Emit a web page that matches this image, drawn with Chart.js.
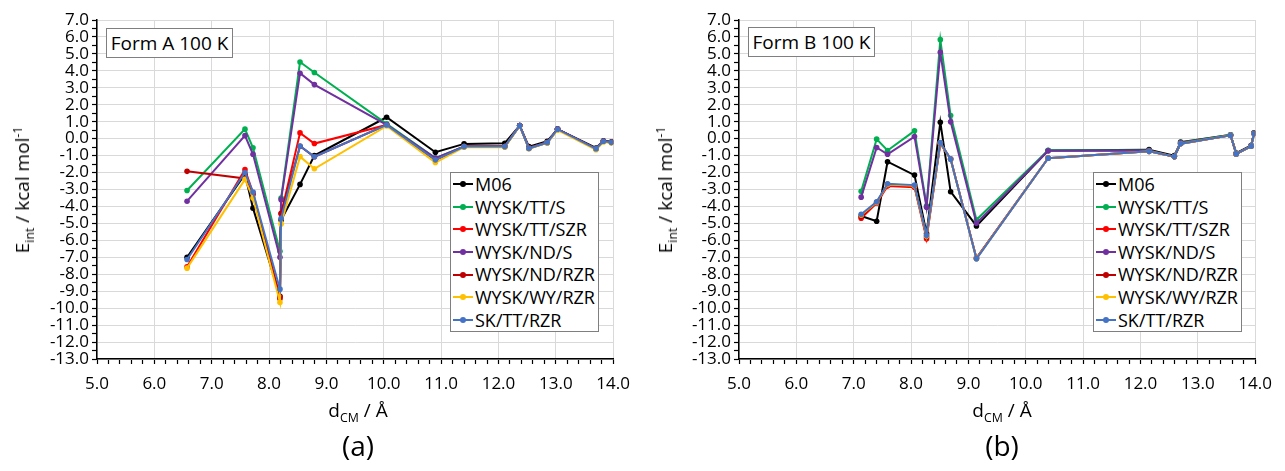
<!DOCTYPE html>
<html>
<head>
<meta charset="utf-8">
<script src="https://cdn.jsdelivr.net/npm/chart.js@4.4.1/dist/chart.umd.min.js"></script>
<style>
  html, body { margin: 0; padding: 0; background: #fff; }
  body { width: 1285px; height: 471px; position: relative; overflow: hidden; font-family: "Open Sans", sans-serif; color: #000; }
  canvas { position: absolute; top: 0; }
  #chA { left: 0; }
  #chB { left: 642px; }
  .form { position: absolute; box-sizing: border-box; width: 127px; height: 30px; border: 1px solid #7f7f7f; background: #fff;
          font-size: 19px; line-height: 28px; text-align: center; white-space: nowrap; }
  .legend { position: absolute; border: 1px solid #7f7f7f; background: #fff; font-size: 18px; padding: 0 3px 0 2px; }
  .legend div { height: 22.6px; line-height: 22.6px; display: flex; align-items: center; white-space: nowrap; }
  .legend i { position: relative; display: inline-block; width: 20px; height: 2px; margin-right: 2px; }
  .legend i::after { content: ""; position: absolute; left: 7px; top: -2px; width: 6px; height: 6px; border-radius: 50%; background: inherit; }
  .ytitle { position: absolute; transform: translate(-50%, -50%) rotate(-90deg); font-size: 19px; white-space: nowrap; }
  .xtitle { position: absolute; transform: translateX(-50%); font-size: 19px; white-space: nowrap; }
  .tag { position: absolute; transform: translateX(-50%); font-size: 28px; white-space: nowrap; }
  sub, sup { font-size: 65%; line-height: 0; }
</style>
</head>
<body>
<canvas id="chA" width="640" height="400"></canvas>
<canvas id="chB" width="640" height="400"></canvas>

<div class="form" style="left:106px;top:28px">Form A 100 K</div>
<div class="form" style="left:748px;top:27px">Form B 100 K</div>

<div class="legend" id="legA" style="left:450px;top:172px"></div>
<div class="legend" id="legB" style="left:1093px;top:172px"></div>

<div class="ytitle" style="left:22px;top:190px">E<sub>int</sub> / kcal mol<sup>-1</sup></div>
<div class="ytitle" style="left:665px;top:190px">E<sub>int</sub> / kcal mol<sup>-1</sup></div>
<div class="xtitle" style="left:358px;top:397px">d<sub>CM</sub> / Å</div>
<div class="xtitle" style="left:1002px;top:397px">d<sub>CM</sub> / Å</div>
<div class="tag" style="left:358px;top:426px">(a)</div>
<div class="tag" style="left:1002px;top:426px">(b)</div>

<script>
// series names and line colours
const names = ["M06", "WYSK/TT/S", "WYSK/TT/SZR", "WYSK/ND/S", "WYSK/ND/RZR", "WYSK/WY/RZR", "SK/TT/RZR"];
const colors = ["#000000", "#00b050", "#ff0000", "#7030a0", "#c00000", "#ffc000", "#4472c4"];

// Form A: centre-of-mass distances (Å) and interaction energies (kcal/mol)
const xA = [6.57, 7.58, 7.72, 8.19, 8.21, 8.54, 8.79, 10.05, 10.90, 11.40, 12.11, 12.37, 12.53, 12.85, 13.03, 13.70, 13.83, 13.97];
const m06A   = [-7.00, -2.10, -4.10, -9.30, -4.80, -2.70, -1.00, 1.26, -0.80, -0.31, -0.27, 0.77, -0.47, -0.15, 0.56, -0.55, -0.12, -0.18];
const ttsA   = [-3.06,  0.56, -0.54, -6.65, -3.50,  4.52,  3.90, 0.87, -1.15, -0.47, -0.47, 0.77, -0.55, -0.23, 0.56, -0.60, -0.15, -0.22];
const ttszA  = [-7.56, -1.83, -3.20, -9.34, -4.44,  0.34, -0.29, 0.81, -1.25, -0.47, -0.47, 0.77, -0.55, -0.23, 0.56, -0.60, -0.15, -0.22];
const ndsA   = [-3.69,  0.18, -0.92, -7.00, -3.60,  3.86,  3.19, 0.81, -1.15, -0.47, -0.47, 0.77, -0.55, -0.23, 0.56, -0.60, -0.15, -0.22];
const ndrzA  = [-1.93, -2.35, -3.30, -9.45, -4.40, -0.45, -1.07, 0.81, -1.25, -0.47, -0.47, 0.77, -0.58, -0.23, 0.56, -0.60, -0.15, -0.22];
const wyrzA  = [-7.64, -2.40, -3.50, -9.66, -5.03, -1.06, -1.78, 0.75, -1.41, -0.50, -0.50, 0.75, -0.60, -0.25, 0.50, -0.65, -0.20, -0.25];
const sktrzA = [-7.13, -2.00, -3.15, -8.88, -4.70, -0.43, -1.07, 0.81, -1.25, -0.47, -0.47, 0.77, -0.58, -0.23, 0.56, -0.60, -0.15, -0.22];

// Form B
const xB = [7.13, 7.40, 7.59, 8.06, 8.27, 8.51, 8.69, 9.14, 10.39, 12.15, 12.59, 12.70, 13.57, 13.67, 13.93, 13.98];
const m06B   = [-4.56, -4.87, -1.36, -2.15, -5.60,  0.97, -3.13, -5.15, -0.70, -0.65, -1.00, -0.20, 0.22, -0.85, -0.40, 0.35];
const ttsB   = [-3.11, -0.03, -0.70,  0.46, -3.96,  5.84,  1.36, -4.79, -0.68, -0.70, -1.06, -0.23, 0.22, -0.90, -0.41, 0.32];
const ttszB  = [-4.70, -3.80, -2.80, -2.86, -5.90, -0.30, -1.20, -7.05, -1.15, -0.75, -1.06, -0.30, 0.20, -0.90, -0.45, 0.30];
const ndsB   = [-3.45, -0.52, -0.92,  0.12, -4.04,  5.09,  0.99, -4.99, -0.72, -0.70, -1.06, -0.25, 0.20, -0.90, -0.41, 0.32];
const ndrzB  = [-4.60, -3.75, -2.70, -2.80, -5.80, -0.25, -1.20, -7.05, -1.15, -0.75, -1.06, -0.30, 0.20, -0.90, -0.45, 0.30];
const wyrzB  = [-4.50, -3.75, -2.70, -2.78, -5.75, -0.25, -1.22, -7.08, -1.15, -0.75, -1.06, -0.30, 0.20, -0.90, -0.45, 0.30];
const sktrzB = [-4.46, -3.73, -2.66, -2.74, -5.70, -0.23, -1.21, -7.09, -1.15, -0.75, -1.06, -0.30, 0.20, -0.90, -0.45, 0.30];

const seriesA = [m06A, ttsA, ttszA, ndsA, ndrzA, wyrzA, sktrzA];
const seriesB = [m06B, ttsB, ttszB, ndsB, ndrzB, wyrzB, sktrzB];

const isInt = (v) => Math.abs(v - Math.round(v)) < 1e-6;
const FONT = { family: "'Open Sans', sans-serif", size: 17 };

function panel(id, xs, series) {
  const n = series.length;
  const datasets = series.map((ys, i) => ({
    label: names[i],
    data: xs.map((x, k) => ({ x, y: ys[k] })),
    borderColor: colors[i],
    backgroundColor: colors[i],
    pointBackgroundColor: colors[i],
    pointBorderWidth: 0,
    pointRadius: 2.8,
    borderWidth: 2,
    tension: 0,
    order: n - 1 - i, // last series painted on top
  }));
  return new Chart(document.getElementById(id), {
    type: "line",
    data: { datasets },
    options: {
      responsive: false, animation: false, events: [],
      layout: { padding: { top: 20, right: id === "chA" ? 19 : 17, left: 0, bottom: 0 } },
      plugins: { legend: { display: false }, tooltip: { enabled: false } },
      scales: {
        x: {
          type: "linear", min: 5, max: 14,
          afterFit: (s) => { s.height = 41; },
          border: { color: "#000", width: 1.5 },
          grid: {
            color: (c) => (c.tick && isInt(c.tick.value) ? "#d9d9d9" : "rgba(0,0,0,0)"),
            tickColor: "#000", tickLength: 5, lineWidth: 1, tickWidth: 1.2,
          },
          ticks: {
            stepSize: 0.2, autoSkip: false, maxRotation: 0, padding: 10, color: "#000", font: FONT,
            callback: (v) => (isInt(v) ? Number(v).toFixed(1) : ""),
          },
        },
        y: {
          min: -13, max: 7,
          afterFit: (s) => { s.width = 97; },
          border: { color: "#000", width: 1.5 },
          grid: {
            color: (c) => (c.tick && isInt(c.tick.value) ? "#d9d9d9" : "rgba(0,0,0,0)"),
            tickColor: "#000", tickLength: 5, lineWidth: 1, tickWidth: 1.2,
          },
          ticks: {
            stepSize: 0.5, autoSkip: false, padding: 3, color: "#000", font: FONT,
            callback: (v) => (isInt(v) ? Number(v).toFixed(1) : ""),
          },
        },
      },
    },
  });
}

// legend box inside each plot
function legend(boxId) {
  document.getElementById(boxId).innerHTML = names
    .map((nm, i) => '<div><i style="background:' + colors[i] + '"></i>' + nm + "</div>")
    .join("");
}

panel("chA", xA, seriesA);
panel("chB", xB, seriesB);
legend("legA");
legend("legB");
</script>
</body>
</html>
